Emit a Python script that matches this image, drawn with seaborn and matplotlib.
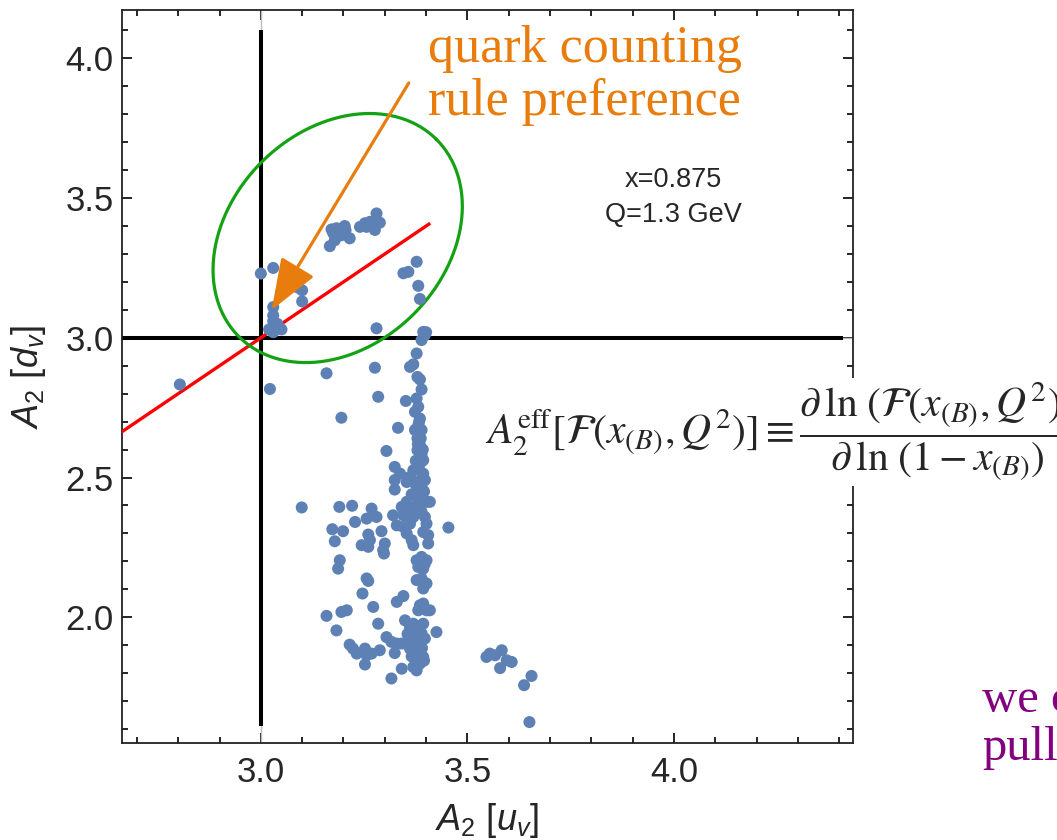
import matplotlib
matplotlib.use("Agg")
import matplotlib.pyplot as plt
import numpy as np
import seaborn as sns

# Effective large-x exponents A2 for valence u (x) and d (y) from the replica fits
u_v = [
    3.00, 3.03, 3.09, 3.10, 3.10, 3.03, 3.03, 3.03, 3.02, 3.04, 3.05, 3.03, 3.04,
    3.171, 3.183, 3.191, 3.203, 3.215, 3.167, 3.179, 3.195, 3.175, 3.205,
    3.240, 3.252, 3.264, 3.280, 3.288, 3.276, 3.256, 3.268,
    3.345, 3.357, 3.377, 3.381, 3.385, 3.280, 3.393, 3.397, 3.389, 3.400,
    3.159, 3.276, 3.377, 3.369, 3.361, 3.379, 3.385,
    2.804, 3.022, 3.284, 3.195, 3.099,
    3.389, 3.351, 3.377, 3.381, 3.373, 3.385, 3.381, 3.332, 3.373, 3.389,
    3.379, 3.385, 3.379, 3.389, 3.393, 3.385, 3.304, 3.324, 3.337, 3.353,
    3.361, 3.369, 3.324, 3.324, 3.393, 3.397, 3.389, 3.385, 3.381, 3.401,
    3.409, 3.353, 3.341, 3.361, 3.369, 3.345, 3.320, 3.329, 3.345, 3.361,
    3.353, 3.365, 3.369, 3.389, 3.397, 3.401, 3.393, 3.405, 3.405, 3.454,
    3.383, 3.387, 3.380, 3.392, 3.375, 3.382, 3.390, 3.372, 3.395, 3.378,
    3.365, 3.385, 3.375,
    3.190, 3.221, 3.268, 3.272, 3.280, 3.256, 3.228, 3.173, 3.199, 3.179,
    3.260, 3.264, 3.292, 3.300, 3.244, 3.260, 3.296, 3.298, 3.191, 3.187,
    3.256, 3.260, 3.246, 3.329, 3.345, 3.272, 3.195, 3.208, 3.159, 3.183,
    3.284,
    3.377, 3.389, 3.397, 3.401, 3.381, 3.393, 3.377, 3.389, 3.401, 3.393,
    3.385, 3.393, 3.401, 3.409, 3.381, 3.349, 3.361, 3.369, 3.393, 3.377,
    3.389, 3.397, 3.425,
    3.304, 3.316, 3.329, 3.341, 3.353, 3.361, 3.369, 3.377, 3.385, 3.393,
    3.381, 3.369, 3.377, 3.385, 3.370, 3.385, 3.360, 3.375, 3.390, 3.365,
    3.395, 3.355,
    3.215, 3.223, 3.232, 3.252, 3.256, 3.268, 3.288, 3.252, 3.324, 3.341,
    3.316,
    3.554, 3.567, 3.583, 3.546, 3.579, 3.607, 3.595, 3.655, 3.637, 3.650,
]
d_v = [
    3.23, 3.25, 3.18, 3.17, 3.13, 3.11, 3.08, 3.06, 3.03, 3.05, 3.03, 3.02, 3.04,
    3.388, 3.392, 3.380, 3.400, 3.356, 3.328, 3.349, 3.367, 3.375, 3.385,
    3.397, 3.410, 3.415, 3.445, 3.412, 3.386, 3.397, 3.405,
    3.231, 3.236, 3.272, 3.186, 3.139, 3.034, 3.021, 3.010, 2.992, 3.020,
    2.873, 2.893, 2.944, 2.905, 2.896, 2.860, 2.851,
    2.833, 2.817, 2.789, 2.714, 2.393,
    2.815, 2.774, 2.783, 2.753, 2.735, 2.711, 2.687, 2.678, 2.670, 2.670,
    2.640, 2.616, 2.598, 2.580, 2.562, 2.550, 2.595, 2.538, 2.514, 2.484,
    2.502, 2.526, 2.491, 2.457, 2.514, 2.491, 2.467, 2.443, 2.419, 2.413,
    2.413, 2.413, 2.395, 2.377, 2.359, 2.365, 2.365, 2.329, 2.323, 2.335,
    2.300, 2.276, 2.258, 2.377, 2.359, 2.335, 2.305, 2.294, 2.264, 2.321,
    2.700, 2.640, 2.620, 2.600, 2.560, 2.530, 2.500, 2.480, 2.450, 2.460,
    2.440, 2.400, 2.395,
    2.395, 2.399, 2.389, 2.365, 2.359, 2.353, 2.341, 2.315, 2.308, 2.272,
    2.296, 2.276, 2.308, 2.264, 2.258, 2.252, 2.240, 2.228, 2.204, 2.174,
    2.139, 2.130, 2.085, 2.055, 2.076, 2.037, 2.019, 2.025, 2.005, 1.953,
    1.977,
    2.204, 2.216, 2.192, 2.204, 2.180, 2.174, 2.133, 2.139, 2.121, 2.103,
    2.043, 2.049, 2.025, 2.025, 2.025, 1.989, 1.965, 1.977, 1.977, 1.953,
    1.942, 1.924, 1.947,
    1.929, 1.912, 1.906, 1.906, 1.906, 1.888, 1.882, 1.876, 1.870, 1.858,
    1.834, 1.822, 1.810, 1.834, 1.900, 1.900, 1.920, 1.935, 1.890, 1.860,
    1.845, 1.940,
    1.902, 1.888, 1.870, 1.888, 1.864, 1.870, 1.882, 1.831, 1.872, 1.816,
    1.781,
    1.870, 1.864, 1.882, 1.858, 1.818, 1.840, 1.846, 1.790, 1.757, 1.625,
]

# Axis ranges and ticks
x_range = (2.664, 4.433)
y_range = (1.549, 4.173)
x_major = [3.0, 3.5, 4.0]
y_major = [2.0, 2.5, 3.0, 3.5, 4.0]

# Counting-rule reference point and region
rule_point = 3.0
ellipse_center = (3.186, 3.357)

sns.set_style("ticks")
plt.rcParams["font.family"] = ["Liberation Sans", "DejaVu Sans"]
plt.rcParams["mathtext.fontset"] = "custom"
plt.rcParams["mathtext.rm"] = "Liberation Sans"
plt.rcParams["mathtext.it"] = "Liberation Sans:italic"
plt.rcParams["mathtext.bf"] = "Liberation Sans:bold"

fig = plt.figure(figsize=(10.57, 8.40), dpi=100)
ax = fig.add_axes([0.1154, 0.1151, 0.6916, 0.8730])

blue = "#5E81B5"
orange = "#E87D0D"
green = "#14A214"

# thin grey axes through (3, 3)
ax.axvline(rule_point, color="#bbbbbb", lw=1.0, zorder=1)
ax.axhline(rule_point, color="#bbbbbb", lw=1.0, zorder=1)

# black reference lines
ax.plot([rule_point, rule_point], [1.61, 4.10], color="black", lw=2.9,
        solid_capstyle="butt", zorder=2)
ax.plot([2.60, 4.41], [rule_point, rule_point], color="black", lw=2.9,
        solid_capstyle="butt", zorder=2)

# diagonal A2[d_v] = A2[u_v]
diag = np.array([2.60, 3.41])
ax.plot(diag, diag, color="red", lw=2.4, zorder=3, solid_capstyle="butt")

# tilted ellipse around the counting-rule region (semi-axes in data units)
t = np.linspace(0, 2 * np.pi, 400)
ax_major = (0.239, 0.353)
ax_minor = (-0.184, 0.272)
ex = ellipse_center[0] + ax_major[0] * np.cos(t) + ax_minor[0] * np.sin(t)
ey = ellipse_center[1] + ax_major[1] * np.cos(t) + ax_minor[1] * np.sin(t)
ax.plot(ex, ey, color=green, lw=2.3, zorder=3)

sns.scatterplot(x=u_v, y=d_v, ax=ax, color=blue, s=75, edgecolor="none",
                linewidth=0, zorder=4, legend=False)

ax.annotate("", xy=(3.026, 3.099), xytext=(3.358, 3.912),
            arrowprops=dict(arrowstyle="-|>,head_length=3.2,head_width=1.2",
                            mutation_scale=10, lw=2.3, color=orange,
                            shrinkA=0, shrinkB=0),
            zorder=6)

ax.text(3.404, 3.987, "quark counting", color=orange, fontsize=37.5,
        family="Liberation Serif", ha="left", va="baseline", zorder=6)
ax.text(3.404, 3.797, "rule preference", color=orange, fontsize=37.5,
        family="Liberation Serif", ha="left", va="baseline", zorder=6)

ax.text(3.998, 3.540, "x=0.875", fontsize=19.5, ha="center", va="baseline")
ax.text(3.998, 3.414, "Q=1.3 GeV", fontsize=19.5, ha="center", va="baseline")

ax.set_xlim(*x_range)
ax.set_ylim(*y_range)
ax.set_xticks(x_major)
ax.set_yticks(y_major)
ax.set_xticklabels([f"{v:.1f}" for v in x_major])
ax.set_yticklabels([f"{v:.1f}" for v in y_major])
ax.xaxis.set_minor_locator(matplotlib.ticker.MultipleLocator(0.1))
ax.yaxis.set_minor_locator(matplotlib.ticker.MultipleLocator(0.1))
ax.tick_params(which="both", direction="in", top=True, right=True,
               color="black", width=1.2)
ax.tick_params(which="major", length=7, labelsize=25)
ax.tick_params(which="minor", length=4.3)
ax.tick_params(axis="x", which="major", pad=9)
ax.tick_params(axis="y", which="major", pad=6)
for sp in ax.spines.values():
    sp.set_color("#222222")
    sp.set_linewidth(1.3)

ax.set_xlabel(r"$A_2\ [u_v]$", fontsize=26)
ax.set_ylabel(r"$A_2\ [d_v]$", fontsize=26)
ax.xaxis.set_label_coords(0.5, -0.078)
ax.yaxis.set_label_coords(-0.101, 0.5)

eq = (r"$A_2^{\mathrm{eff}}[\mathcal{F}(x_{(B)},Q^2)]\equiv"
      r"\dfrac{\partial\,\ln\,(\mathcal{F}(x_{(B)},Q^2))}{\partial\,\ln\,(1-x_{(B)})}$")
fig.text(0.4593, 0.4857, eq, fontsize=30, math_fontfamily="stix",
         ha="left", va="center", zorder=10,
         bbox=dict(facecolor="white", edgecolor="none", pad=2))

purple = "#82007F"
fig.text(0.929, 0.152, "we c", color=purple, fontsize=35,
         family="Liberation Serif", ha="left", va="baseline")
fig.text(0.929, 0.0952, "pull", color=purple, fontsize=35,
         family="Liberation Serif", ha="left", va="baseline")

fig.savefig("out.png", dpi=100)
